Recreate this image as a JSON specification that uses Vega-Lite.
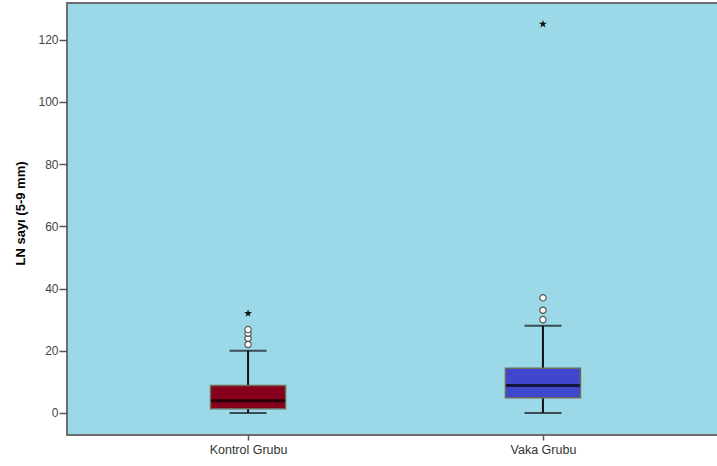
{
  "$schema": "https://vega.github.io/schema/vega-lite/v6.json",
  "width": 657,
  "height": 432,
  "autosize": {"type": "none"},
  "padding": {"left": 67, "top": 3, "right": 0, "bottom": 31},
  "background": "white",
  "config": {
    "view": {"fill": "#9bd9e9", "stroke": "#6e6e6e", "strokeWidth": 2},
    "font": "Liberation Sans"
  },
  "datasets": {
    "boxes": [
      {"grup": "Kontrol Grubu", "alt": 0, "q1": 1.3, "medyan": 3.9, "q3": 8.8, "ust": 20},
      {"grup": "Vaka Grubu", "alt": 0, "q1": 4.9, "medyan": 8.8, "q3": 14.4, "ust": 28}
    ],
    "outliers": [
      {"grup": "Kontrol Grubu", "deger": 22, "tip": "aykiri"},
      {"grup": "Kontrol Grubu", "deger": 24, "tip": "aykiri"},
      {"grup": "Kontrol Grubu", "deger": 25.6, "tip": "aykiri"},
      {"grup": "Kontrol Grubu", "deger": 26.8, "tip": "aykiri"},
      {"grup": "Kontrol Grubu", "deger": 32, "tip": "uc"},
      {"grup": "Vaka Grubu", "deger": 30, "tip": "aykiri"},
      {"grup": "Vaka Grubu", "deger": 33, "tip": "aykiri"},
      {"grup": "Vaka Grubu", "deger": 37, "tip": "aykiri"},
      {"grup": "Vaka Grubu", "deger": 125, "tip": "uc"}
    ]
  },
  "encoding": {
    "x": {
      "field": "grup",
      "type": "nominal",
      "scale": {"type": "point", "domain": ["Kontrol Grubu", "Vaka Grubu"], "padding": 0.614},
      "axis": {
        "orient": "bottom",
        "title": null,
        "labelAngle": 0,
        "labelFontSize": 12.5,
        "labelColor": "#333333",
        "labelPadding": 3,
        "tickSize": 5,
        "tickColor": "#555555",
        "tickWidth": 1.5,
        "domain": false,
        "grid": false
      }
    }
  },
  "layer": [
    {
      "data": {"name": "boxes"},
      "mark": {"type": "rule", "color": "#111111", "strokeWidth": 2},
      "encoding": {
        "y": {
          "field": "alt",
          "type": "quantitative",
          "scale": {"domain": [-7.1, 131.8], "nice": false, "zero": false},
          "axis": {
            "orient": "left",
            "title": "LN sayı (5-9 mm)",
            "titleFontSize": 13,
            "titleFontWeight": "bold",
            "titleColor": "#000000",
            "titleAngle": -90,
            "titleX": -47,
            "titleY": 210,
            "titleAlign": "center",
            "titleBaseline": "middle",
            "values": [0, 20, 40, 60, 80, 100, 120],
            "labelFontSize": 12,
            "labelColor": "#444444",
            "labelPadding": 1,
            "tickSize": 8,
            "tickColor": "#555555",
            "tickWidth": 1.5,
            "domain": false,
            "grid": false
          }
        },
        "y2": {"field": "ust"}
      }
    },
    {
      "data": {"name": "boxes"},
      "mark": {"type": "tick", "orient": "horizontal", "color": "#111111", "size": 37, "thickness": 2},
      "encoding": {"y": {"field": "alt", "type": "quantitative"}}
    },
    {
      "data": {"name": "boxes"},
      "mark": {"type": "tick", "orient": "horizontal", "color": "#111111", "size": 37, "thickness": 2},
      "encoding": {"y": {"field": "ust", "type": "quantitative"}}
    },
    {
      "data": {"name": "boxes"},
      "mark": {"type": "bar", "size": 75, "stroke": "#6f6a58", "strokeWidth": 1.5},
      "encoding": {
        "y": {"field": "q1", "type": "quantitative"},
        "y2": {"field": "q3"},
        "fill": {
          "field": "grup",
          "type": "nominal",
          "scale": {"domain": ["Kontrol Grubu", "Vaka Grubu"], "range": ["#86001b", "#3f48cc"]},
          "legend": null
        }
      }
    },
    {
      "data": {"name": "boxes"},
      "mark": {"type": "tick", "orient": "horizontal", "color": "#000000", "size": 74, "thickness": 3},
      "encoding": {"y": {"field": "medyan", "type": "quantitative"}}
    },
    {
      "data": {"name": "outliers"},
      "transform": [{"filter": "datum.tip === 'aykiri'"}],
      "mark": {"type": "point", "shape": "circle", "filled": true, "fill": "#ffffff", "stroke": "#555555", "strokeWidth": 1.2, "size": 40, "opacity": 1},
      "encoding": {"y": {"field": "deger", "type": "quantitative"}}
    },
    {
      "data": {"name": "outliers"},
      "transform": [{"filter": "datum.tip === 'uc'"}],
      "mark": {
        "type": "point",
        "shape": "M0,-1L0.2245,-0.309L0.951,-0.309L0.363,0.118L0.588,0.809L0,0.382L-0.588,0.809L-0.363,0.118L-0.951,-0.309L-0.2245,-0.309Z",
        "filled": true,
        "color": "#111111",
        "size": 70,
        "opacity": 1
      },
      "encoding": {"y": {"field": "deger", "type": "quantitative"}}
    }
  ]
}
